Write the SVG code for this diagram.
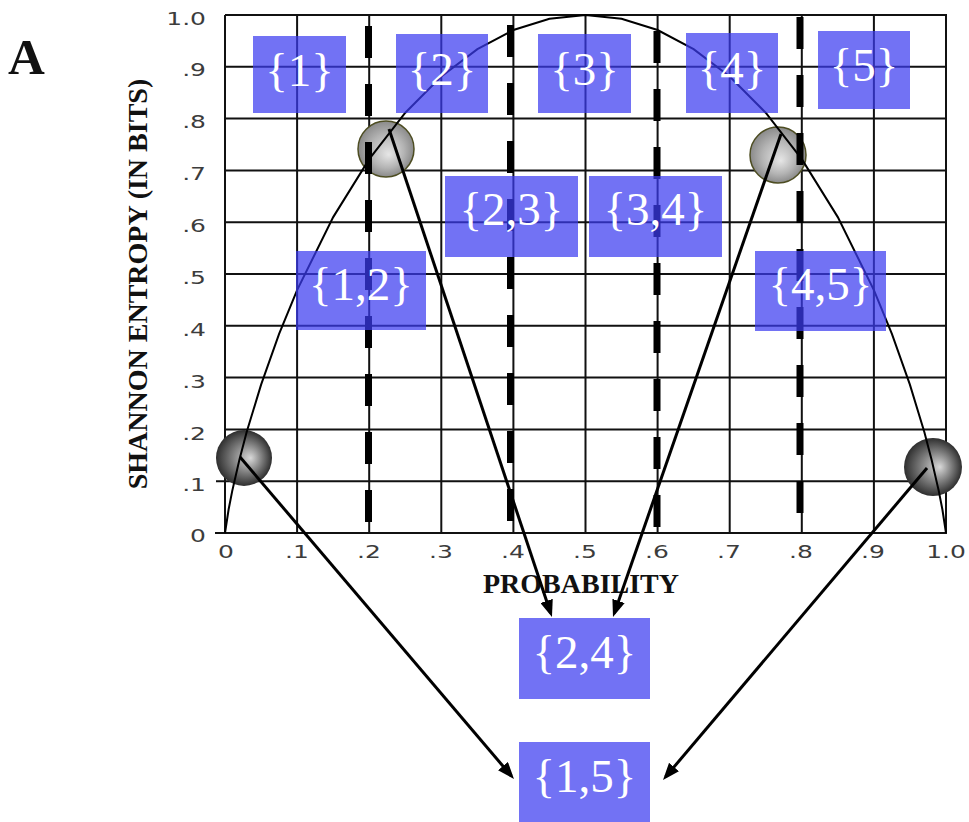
<svg xmlns="http://www.w3.org/2000/svg" width="969" height="822" viewBox="0 0 969 822">
<style>
.grid{stroke:#111;stroke-width:2;fill:none}
.dash{stroke:#000;stroke-width:7;stroke-dasharray:32 26;fill:none}
.curve{stroke:#000;stroke-width:2;fill:none}
.tick{font-family:"DejaVu Sans",sans-serif;font-size:18.5px;fill:#3c3c3c}
.axis{font-family:"Liberation Serif",serif;font-weight:bold;font-size:28px;fill:#111}
.box{fill:#3c3cf0;fill-opacity:.72}
.lbl{font-family:"Liberation Serif",serif;font-size:47px;fill:#fff;text-anchor:middle}
.conn{stroke:#000;stroke-width:3;fill:none;marker-end:url(#ah)}
</style>
<defs>
<marker id="ah" markerUnits="userSpaceOnUse" markerWidth="17" markerHeight="13" viewBox="0 0 17 13" refX="13" refY="6.5" orient="auto">
<path d="M0,0 L17,6.5 L0,13 z" fill="#000"/>
</marker>
<radialGradient id="gDark" cx="0.5" cy="0.5" r="0.5" fx="0.62" fy="0.5">
<stop offset="0" stop-color="#d8d8d8"/>
<stop offset="0.55" stop-color="#7a7a7a"/>
<stop offset="1" stop-color="#2e2e2e"/>
</radialGradient>
<radialGradient id="gLight" cx="0.5" cy="0.5" r="0.5" fx="0.55" fy="0.6">
<stop offset="0" stop-color="#e6e6e6"/>
<stop offset="0.6" stop-color="#b4b4b4"/>
<stop offset="1" stop-color="#8a8a8a"/>
</radialGradient>
</defs>
<rect width="969" height="822" fill="#fff"/>

<text x="8" y="74" font-family="Liberation Serif, serif" font-weight="bold" font-size="51" fill="#111">A</text>

<g id="grid">
<path class="grid" d="M297.1,15V533M369.2,15V533M441.3,15V533M513.4,15V533M585.5,15V533M657.6,15V533M729.7,15V533M801.8,15V533M873.9,15V533"/>
<path class="grid" d="M225,66.8H946M225,118.6H946M225,170.4H946M225,222.2H946M225,274H946M225,325.8H946M225,377.6H946M225,429.4H946M216,481.2H946"/>
<path class="grid" stroke-width="2.5" d="M225,15H946V533H215M225,15V533"/>
</g>

<g id="ticks">
<text class="tick" text-anchor="end" transform="translate(206,25) scale(1.35,1)">1.0</text>
<text class="tick" text-anchor="end" transform="translate(206,76) scale(1.35,1)">.9</text>
<text class="tick" text-anchor="end" transform="translate(206,128) scale(1.35,1)">.8</text>
<text class="tick" text-anchor="end" transform="translate(206,180) scale(1.35,1)">.7</text>
<text class="tick" text-anchor="end" transform="translate(206,232) scale(1.35,1)">.6</text>
<text class="tick" text-anchor="end" transform="translate(206,284) scale(1.35,1)">.5</text>
<text class="tick" text-anchor="end" transform="translate(206,336) scale(1.35,1)">.4</text>
<text class="tick" text-anchor="end" transform="translate(206,388) scale(1.35,1)">.3</text>
<text class="tick" text-anchor="end" transform="translate(206,440) scale(1.35,1)">.2</text>
<text class="tick" text-anchor="end" transform="translate(206,491) scale(1.35,1)">.1</text>
<text class="tick" text-anchor="end" transform="translate(206,542) scale(1.35,1)">0</text>
<text class="tick" text-anchor="middle" transform="translate(226,558) scale(1.35,1)">0</text>
<text class="tick" text-anchor="middle" transform="translate(297,558) scale(1.35,1)">.1</text>
<text class="tick" text-anchor="middle" transform="translate(369,558) scale(1.35,1)">.2</text>
<text class="tick" text-anchor="middle" transform="translate(441,558) scale(1.35,1)">.3</text>
<text class="tick" text-anchor="middle" transform="translate(513,558) scale(1.35,1)">.4</text>
<text class="tick" text-anchor="middle" transform="translate(585,558) scale(1.35,1)">.5</text>
<text class="tick" text-anchor="middle" transform="translate(657,558) scale(1.35,1)">.6</text>
<text class="tick" text-anchor="middle" transform="translate(729,558) scale(1.35,1)">.7</text>
<text class="tick" text-anchor="middle" transform="translate(801,558) scale(1.35,1)">.8</text>
<text class="tick" text-anchor="middle" transform="translate(873,558) scale(1.35,1)">.9</text>
<text class="tick" text-anchor="middle" transform="translate(946,558) scale(1.35,1)">1.0</text>
</g>

<text class="axis" text-anchor="middle" transform="translate(147,284) rotate(-90)">SHANNON ENTROPY (IN BITS)</text>
<text class="axis" text-anchor="middle" x="581" y="593">PROBABILITY</text>

<g id="points">
<circle cx="244" cy="458" r="28" fill="url(#gDark)"/>
<circle cx="933" cy="467" r="29" fill="url(#gDark)"/>
<circle cx="386" cy="149" r="28" fill="url(#gLight)" stroke="#4d4d22" stroke-width="1.5"/>
<circle cx="778" cy="155" r="28" fill="url(#gLight)" stroke="#4d4d22" stroke-width="1.5"/>
</g>

<path id="entropy" class="curve" d="M225,533 L228.6,509.5 L232.2,491.1 L239.4,459.8 L246.6,432.3 L261.1,384.6 L279.1,333.9 L297.1,290.1 L333.2,217.1 L369.2,159.1 L405.3,112.7 L441.3,76.5 L477.4,49.1 L513.4,30 L549.5,18.7 L585.5,15 L621.5,18.7 L657.6,30 L693.6,49.1 L729.7,76.5 L765.7,112.7 L801.8,159.1 L837.8,217.1 L873.9,290.1 L891.9,333.9 L909.9,384.6 L924.4,432.3 L931.6,459.8 L938.8,491.1 L942.4,509.5 L946,533"/>

<g id="dividers">
<line class="dash" x1="368.5" y1="26" x2="368.5" y2="523"/>
<line class="dash" x1="510.5" y1="25" x2="510.5" y2="521"/>
<line class="dash" x1="657" y1="31" x2="657" y2="527"/>
<line class="dash" x1="800" y1="17" x2="800" y2="515"/>
</g>

<g id="n1"><rect class="box" x="253" y="36" width="93" height="77"/><text class="lbl" x="299.5" y="86">{1}</text></g>
<g id="n2"><rect class="box" x="396" y="34" width="92" height="79"/><text class="lbl" x="442" y="85">{2}</text></g>
<g id="n3"><rect class="box" x="538" y="34" width="93" height="79"/><text class="lbl" x="584.5" y="85">{3}</text></g>
<g id="n4"><rect class="box" x="686" y="33" width="92" height="80"/><text class="lbl" x="732" y="84">{4}</text></g>
<g id="n5"><rect class="box" x="818" y="31" width="92" height="78"/><text class="lbl" x="864" y="81">{5}</text></g>
<g id="n23"><rect class="box" x="445" y="176" width="133" height="81"/><text class="lbl" x="511.5" y="225">{2,3}</text></g>
<g id="n34"><rect class="box" x="589" y="176" width="133" height="81"/><text class="lbl" x="655.5" y="225">{3,4}</text></g>
<g id="n12"><rect class="box" x="296" y="251" width="130" height="79"/><text class="lbl" x="361" y="300">{1,2}</text></g>
<g id="n45"><rect class="box" x="755" y="251" width="131" height="80"/><text class="lbl" x="820.5" y="300">{4,5}</text></g>
<g id="n24"><rect class="box" x="519" y="618" width="131" height="81"/><text class="lbl" x="584.5" y="668">{2,4}</text></g>
<g id="n15"><rect class="box" x="519" y="742" width="131" height="80"/><text class="lbl" x="584.5" y="792">{1,5}</text></g>

<g id="connectors">
<line class="conn" x1="389" y1="129" x2="550.7" y2="613.2"/>
<line class="conn" x1="781" y1="134" x2="614.3" y2="613.2"/>
<line class="conn" x1="240" y1="457" x2="511.4" y2="776"/>
<line class="conn" x1="927" y1="468" x2="665.6" y2="776.9"/>
</g>
</svg>
